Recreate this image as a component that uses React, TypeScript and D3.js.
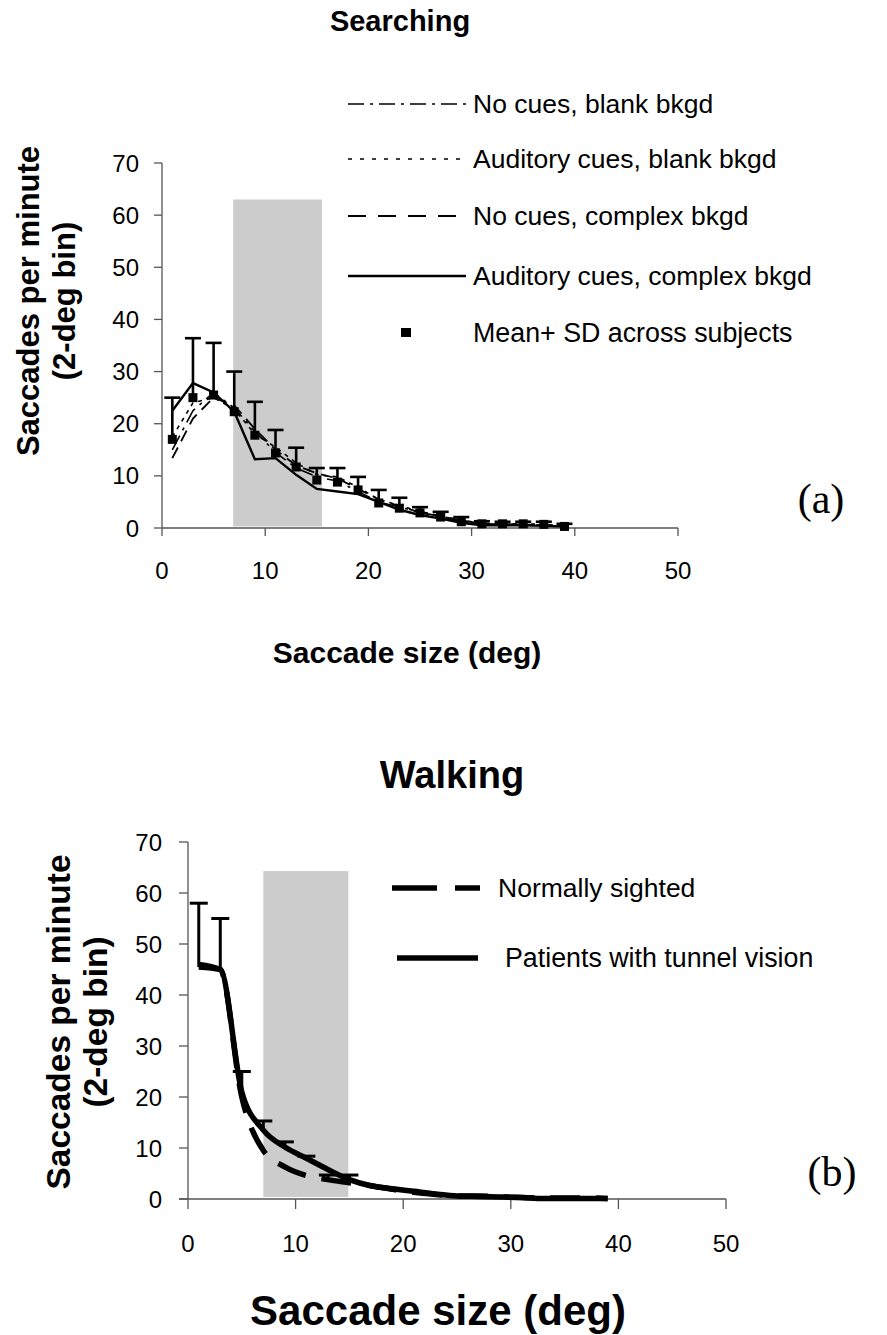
import React from 'react';
import * as d3 from 'd3';

// ---------- DATA ----------
const binCenters = [1, 3, 5, 7, 9, 11, 13, 15, 17, 19, 21, 23, 25, 27, 29, 31, 33, 35, 37, 39];
const xTicks = [0, 10, 20, 30, 40, 50];
const yTicks = [0, 10, 20, 30, 40, 50, 60, 70];

// Panel (a) Searching
const noCuesBlank = [15, 22.5, 26, 23, 18.5, 14.5, 11.5, 9.8, 9, 7, 5, 4, 3, 2, 1.3, 0.8, 0.7, 0.7, 0.6, 0.3];
const audBlank = [17.5, 24, 25, 22.8, 18, 15.5, 12.5, 10.2, 9.8, 7.8, 5.5, 4.3, 3.2, 2.3, 1.5, 0.9, 0.8, 0.8, 0.7, 0.4];
const noCuesComplex = [13.4, 21, 25, 23.5, 19, 15, 12, 10.5, 9.5, 7.5, 5.5, 4.2, 3, 2.2, 1.5, 0.8, 0.7, 0.6, 0.5, 0.3];
const audComplex = [22.5, 27.8, 26, 22.3, 13.2, 13.4, 10.2, 7.5, 7, 6.5, 5, 3.5, 2.5, 1.8, 1, 0.5, 0.5, 0.5, 0.4, 0.3];
const searchMean = [17, 25, 25.5, 22.3, 17.8, 14.4, 11.7, 9.2, 8.8, 7.3, 4.8, 3.8, 2.9, 2.1, 1.2, 0.8, 0.8, 0.8, 0.7, 0.3];
const searchSDTop = [25, 36.4, 35.5, 30, 24.2, 18.8, 15.4, 11.5, 11.5, 9.8, 7.3, 5.8, 4, 3.1, 2.1, 1.3, 1.2, 1.2, 1.2, 0.8];
const searchBand = [6.9, 15.5, 0.3, 63];

// Panel (b) Walking
const normalSighted = [46, 45, 20, 9.5, 6.3, 4.6, 3.8, 3.2, 2.6, 1.9, 1.3, 0.9, 0.6, 0.6, 0.4, 0.3, 0.2, 0.2, 0.2, 0.1];
const tunnelVision = [45.5, 45, 21, 13.5, 10.2, 8, 5.8, 3.8, 2.6, 2, 1.5, 1, 0.6, 0.5, 0.4, 0.3, 0.1, 0.1, 0.1, 0.1];
const walkSDCenters = [1, 3, 5, 7, 9, 11, 13, 15];
const walkSDTop = [58, 55, 25, 15.3, 11.2, 8.4, 4.7, 4.7];
const walkBand = [7, 14.9, 0.4, 64.3];

const legendA = [
  { label: 'No cues, blank bkgd', dash: '16,6,3,6', width: 1.6 },
  { label: 'Auditory cues, blank bkgd', dash: '4,8', width: 1.6 },
  { label: 'No cues, complex bkgd', dash: '18,12', width: 1.8 },
  { label: 'Auditory cues, complex bkgd', dash: null, width: 2.4 },
];
const legendB = ['Normally sighted', 'Patients with tunnel vision'];

const SANS = '"Liberation Sans", Arial, sans-serif';
const SERIF = '"Liberation Serif", "Times New Roman", serif';

export default function App() {
  // scales
  const xA = d3.scaleLinear().domain([0, 50]).range([162, 678]);
  const yA = d3.scaleLinear().domain([0, 70]).range([528, 163]);
  const xB = d3.scaleLinear().domain([0, 50]).range([188, 726]);
  const yB = d3.scaleLinear().domain([0, 70]).range([1199, 842]);

  const lineA = (vals: number[]) =>
    d3.line<number>().x((_, i) => xA(binCenters[i])).y((v) => yA(v))(vals) || '';
  const lineB = (vals: number[]) =>
    d3
      .line<number>()
      .x((_, i) => xB(binCenters[i]))
      .y((v) => yB(v))
      .curve(d3.curveMonotoneX)(vals) || '';

  const axisColor = '#555';

  return (
    <svg
      width={887}
      height={1335}
      style={{ position: 'absolute', left: 0, top: 0, background: '#fff' }}
      fontFamily={SANS}
    >
      <rect x={0} y={0} width={887} height={1335} fill="#fff" />

      {/* ================= Panel (a) ================= */}
      <text x={400} y={31} fontSize={29} fontWeight="bold" textAnchor="middle">
        Searching
      </text>

      {/* band */}
      <rect
        x={xA(searchBand[0])}
        y={yA(searchBand[3])}
        width={xA(searchBand[1]) - xA(searchBand[0])}
        height={yA(searchBand[2]) - yA(searchBand[3])}
        fill="#cccccc"
      />

      {/* axes */}
      <line x1={xA(0)} x2={xA(0)} y1={yA(0)} y2={yA(70)} stroke={axisColor} strokeWidth={1.3} />
      <line x1={xA(0)} x2={xA(50)} y1={yA(0)} y2={yA(0)} stroke={axisColor} strokeWidth={1.3} />
      {yTicks.map((t) => (
        <g key={'ya' + t}>
          <line x1={xA(0) - 8} x2={xA(0)} y1={yA(t)} y2={yA(t)} stroke={axisColor} strokeWidth={1.3} />
          <text x={139} y={yA(t) + 8.5} fontSize={24} textAnchor="end">
            {t}
          </text>
        </g>
      ))}
      {xTicks.map((t) => (
        <g key={'xa' + t}>
          <line x1={xA(t)} x2={xA(t)} y1={yA(0)} y2={yA(0) + 8} stroke={axisColor} strokeWidth={1.3} />
          <text x={xA(t)} y={579} fontSize={24} textAnchor="middle">
            {t}
          </text>
        </g>
      ))}

      {/* series lines */}
      <path d={lineA(noCuesBlank)} fill="none" stroke="#000" strokeWidth={1.6} strokeDasharray="16,6,3,6" />
      <path d={lineA(audBlank)} fill="none" stroke="#000" strokeWidth={1.6} strokeDasharray="4,5" />
      <path d={lineA(noCuesComplex)} fill="none" stroke="#000" strokeWidth={1.8} strokeDasharray="12,7" />
      <path d={lineA(audComplex)} fill="none" stroke="#000" strokeWidth={2.4} />

      {/* error bars + means */}
      {binCenters.map((c, i) => (
        <g key={'eb' + i}>
          <line x1={xA(c)} x2={xA(c)} y1={yA(searchMean[i])} y2={yA(searchSDTop[i])} stroke="#000" strokeWidth={2.6} />
          <line x1={xA(c) - 8} x2={xA(c) + 8} y1={yA(searchSDTop[i])} y2={yA(searchSDTop[i])} stroke="#000" strokeWidth={2.6} />
          <rect x={xA(c) - 4.5} y={yA(searchMean[i]) - 4.5} width={9} height={9} fill="#000" />
        </g>
      ))}

      {/* legend a */}
      {legendA.map((l, i) => {
        const y = [104, 159, 216, 276][i];
        return (
          <g key={'la' + i}>
            <line
              x1={348}
              x2={466}
              y1={y}
              y2={y}
              stroke="#000"
              strokeWidth={l.width}
              strokeDasharray={l.dash || undefined}
            />
            <text x={473} y={y + 9} fontSize={26.5}>
              {l.label}
            </text>
          </g>
        );
      })}
      <rect x={401} y={328} width={10} height={9} fill="#000" />
      <text x={473} y={342} fontSize={26.8}>
        Mean+ SD across subjects
      </text>

      {/* y label a */}
      <g transform="translate(39,301) rotate(-90)">
        <text fontSize={31} fontWeight="bold" textAnchor="middle">
          Saccades per minute
        </text>
      </g>
      <g transform="translate(75,301) rotate(-90)">
        <text fontSize={31} fontWeight="bold" textAnchor="middle">
          (2-deg bin)
        </text>
      </g>
      <text x={407} y={663} fontSize={30} fontWeight="bold" textAnchor="middle">
        Saccade size (deg)
      </text>
      <text x={821} y={513} fontSize={42} fontFamily={SERIF} textAnchor="middle">
        (a)
      </text>

      {/* ================= Panel (b) ================= */}
      <text x={452} y={788} fontSize={38} fontWeight="bold" textAnchor="middle">
        Walking
      </text>

      <rect
        x={xB(walkBand[0])}
        y={yB(walkBand[3])}
        width={xB(walkBand[1]) - xB(walkBand[0])}
        height={yB(walkBand[2]) - yB(walkBand[3])}
        fill="#cccccc"
      />

      <line x1={xB(0)} x2={xB(0)} y1={yB(0)} y2={yB(70)} stroke={axisColor} strokeWidth={1.3} />
      <line x1={xB(0) - 9} x2={xB(50)} y1={yB(0)} y2={yB(0)} stroke={axisColor} strokeWidth={1.3} />
      {yTicks.map((t) => (
        <g key={'yb' + t}>
          <line x1={xB(0) - 9} x2={xB(0)} y1={yB(t)} y2={yB(t)} stroke={axisColor} strokeWidth={1.3} />
          <text x={162} y={yB(t) + 8.5} fontSize={24} textAnchor="end">
            {t}
          </text>
        </g>
      ))}
      {xTicks.map((t) => (
        <g key={'xb' + t}>
          <line x1={xB(t)} x2={xB(t)} y1={yB(0)} y2={yB(0) + 10} stroke={axisColor} strokeWidth={1.3} />
          <text x={xB(t)} y={1252} fontSize={24} textAnchor="middle">
            {t}
          </text>
        </g>
      ))}

      {/* error bars b */}
      {walkSDCenters.map((c, i) => {
        const idx = binCenters.indexOf(c);
        const base = walkSDTop[i] > tunnelVision[idx] ? tunnelVision[idx] : normalSighted[idx];
        return (
          <g key={'ebb' + i}>
            <line x1={xB(c)} x2={xB(c)} y1={yB(base)} y2={yB(walkSDTop[i])} stroke="#000" strokeWidth={3} />
            <line x1={xB(c) - 9} x2={xB(c) + 9} y1={yB(walkSDTop[i])} y2={yB(walkSDTop[i])} stroke="#000" strokeWidth={3} />
          </g>
        );
      })}

      <path d={lineB(normalSighted)} fill="none" stroke="#000" strokeWidth={5.5} strokeDasharray="30,16" />
      <path d={lineB(tunnelVision)} fill="none" stroke="#000" strokeWidth={5.5} />

      {/* legend b */}
      <line x1={392} x2={480} y1={888} y2={888} stroke="#000" strokeWidth={5.5} strokeDasharray="45,18,25,100" />
      <text x={498} y={897} fontSize={26.5}>
        {legendB[0]}
      </text>
      <line x1={397} x2={478} y1={958} y2={958} stroke="#000" strokeWidth={5.5} />
      <text x={505} y={967} fontSize={26.8}>
        {legendB[1]}
      </text>

      <g transform="translate(70,1022) rotate(-90)">
        <text fontSize={33.5} fontWeight="bold" textAnchor="middle">
          Saccades per minute
        </text>
      </g>
      <g transform="translate(107,1022) rotate(-90)">
        <text fontSize={33.5} fontWeight="bold" textAnchor="middle">
          (2-deg bin)
        </text>
      </g>
      <text x={438} y={1325} fontSize={42} fontWeight="bold" textAnchor="middle">
        Saccade size (deg)
      </text>
      <text x={832} y={1186} fontSize={42} fontFamily={SERIF} textAnchor="middle">
        (b)
      </text>
    </svg>
  );
}
